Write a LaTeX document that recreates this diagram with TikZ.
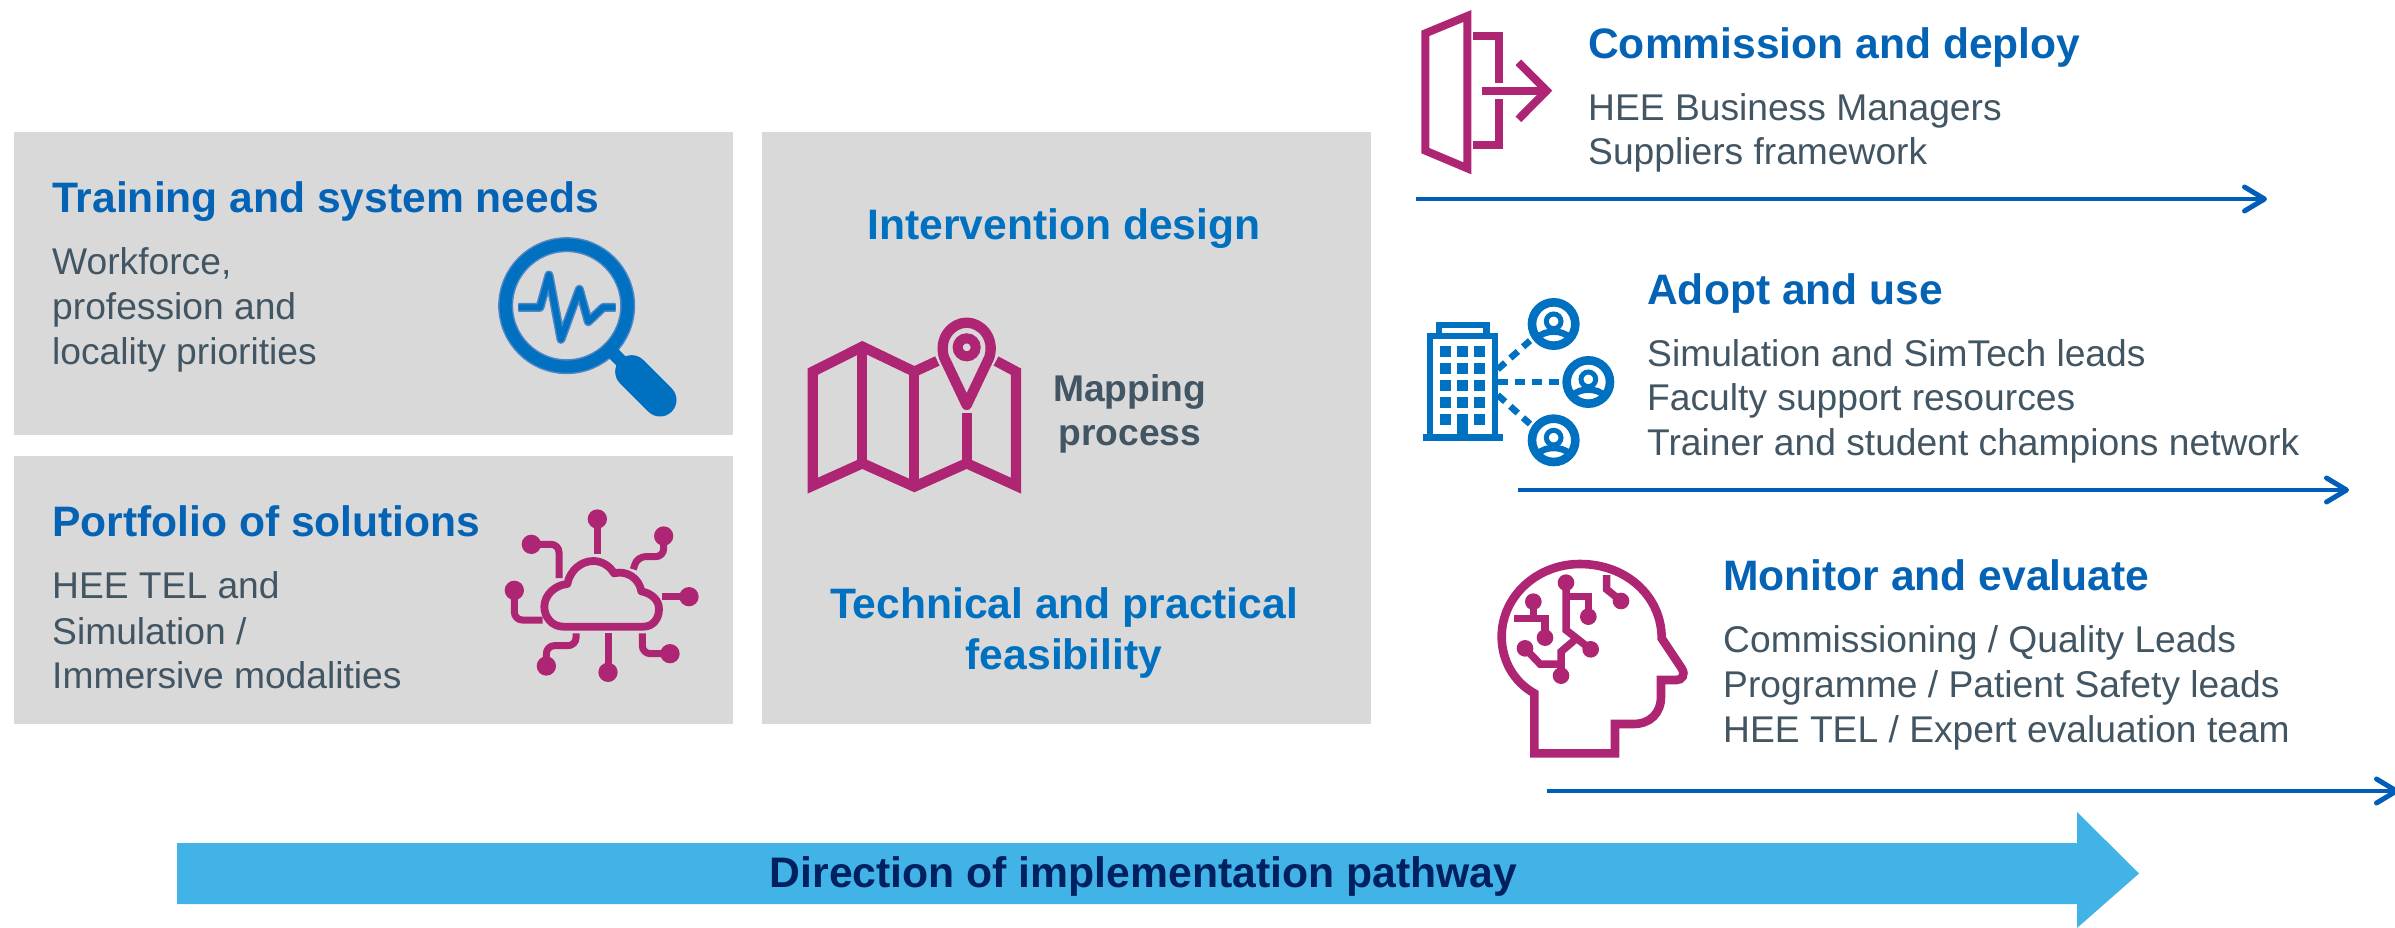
\documentclass[tikz,border=0pt]{standalone}
\usepackage{fontspec}
\setmainfont{Liberation Sans}
\usetikzlibrary{arrows.meta}
\definecolor{hblue}{HTML}{0563B5}
\definecolor{iblue}{HTML}{0070C0}
\definecolor{edgeblue}{HTML}{4F86C6}
\definecolor{bodygray}{HTML}{425563}
\definecolor{mag}{HTML}{AE2573}
\definecolor{boxgray}{HTML}{D9D9D9}
\definecolor{bigarrow}{HTML}{41B3E6}
\definecolor{navy}{HTML}{002060}
\definecolor{lineblue}{HTML}{005EB8}
\tikzset{
 panel/.style={fill=boxgray,draw=none},
 head/.style={anchor=base west,inner sep=0pt,font=\fontsize{42.6}{42.6}\selectfont\bfseries,text=hblue},
 chead/.style={anchor=base,inner sep=0pt,font=\fontsize{42.6}{42.6}\selectfont\bfseries,text=iblue},
 bodytxt/.style={anchor=base west,inner sep=0pt,font=\fontsize{37.2}{37.2}\selectfont,text=bodygray},
 maptxt/.style={anchor=base,inner sep=0pt,font=\fontsize{37.2}{37.2}\selectfont\bfseries,text=bodygray},
 flow/.style={draw=lineblue,line width=4pt,-{Straight Barb[length=20pt,width=24pt,line width=5pt,round]}},
 icm/.style={draw=mag,line width=8pt,miter limit=10},
 icb/.style={draw=iblue,line width=6.5pt,miter limit=10},
}
\begin{document}
\begin{tikzpicture}[x=1pt,y=-1pt]
\useasboundingbox (0,0) rectangle (2395,928);
% panels
\fill[panel] (14,132) rectangle (733,435);
\fill[panel] (14,456) rectangle (733,724);
\fill[panel] (762,132) rectangle (1371,724);
% big arrow
\fill[bigarrow] (177,843) -- (2077,843) -- (2077,812) -- (2139,873.5) -- (2077,928) -- (2077,904) -- (177,904) -- cycle;
\node[anchor=base,inner sep=0pt,font=\fontsize{42.7}{42.7}\selectfont\bfseries,text=navy] (dir) at (1143.5,887) {Direction of implementation pathway};
% left text
\node[head] (t1) at (52,212) {Training and system needs};
\node[bodytxt] (t1a) at (52,274) {Workforce,};
\node[bodytxt] (t1b) at (52,319) {profession and};
\node[bodytxt] (t1c) at (52,364) {locality priorities};
\node[head] (t2) at (52,536) {Portfolio of solutions};
\node[bodytxt] (t2a) at (52,598) {HEE TEL and};
\node[bodytxt] (t2b) at (52,644) {Simulation /};
\node[bodytxt] (t2c) at (52,688) {Immersive modalities};
% centre text
\node[chead] (c1) at (1064,240) {Intervention design};
\node[maptxt] (m1) at (1129.5,401) {Mapping};
\node[maptxt] (m2) at (1130,445) {process};
\node[chead] (c2) at (1064,618) {Technical and practical};
\node[chead] (c3) at (1064,669) {feasibility};
% right text
\node[head] (r1) at (1588,59) {Commission and deploy};
\node[bodytxt] (r1a) at (1588,121) {HEE Business Managers};
\node[bodytxt] (r1b) at (1588,165) {Suppliers framework};
\node[head] (r2) at (1647,304) {Adopt and use};
\node[bodytxt] (r2a) at (1647,366) {Simulation and SimTech leads};
\node[bodytxt] (r2b) at (1647,410) {Faculty support resources};
\node[bodytxt] (r2c) at (1647,455) {Trainer and student champions network};
\node[head] (r3) at (1723,590) {Monitor and evaluate};
\node[bodytxt] (r3a) at (1723,652) {Commissioning / Quality Leads};
\node[bodytxt] (r3b) at (1723,697) {Programme / Patient Safety leads};
\node[bodytxt] (r3c) at (1723,742) {HEE TEL / Expert evaluation team};
% flow arrows
\coordinate (a1) at (1416,199); \coordinate (b1) at (2267,199);
\coordinate (a2) at (1518,490); \coordinate (b2) at (2349,490);
\coordinate (a3) at (1547,791); \coordinate (b3) at (2399,791);
\draw[flow] (a1) -- (b1);
\draw[flow] (a2) -- (b2);
\draw[flow] (a3) -- (b3);
% magnifier
\begin{scope}[shift={(460,200)},scale=1/3]
\draw[edgeblue,line width=15pt] (320,317) circle (183);
\draw[iblue,line width=12pt] (320,317) circle (183);
\draw[edgeblue,line width=9pt,line join=round] (175,322) -- (240,322) -- (267,225) -- (303,418) -- (358,268) -- (385,365) -- (430,322) -- (467,322);
\draw[iblue,line width=6pt,line join=round] (175,322) -- (240,322) -- (267,225) -- (303,418) -- (358,268) -- (385,365) -- (430,322) -- (467,322);
\draw[iblue,line width=13pt] (460,460) -- (520,520);
\draw[iblue,line width=33pt,line cap=round] (515,515) -- (600,600);
\end{scope}
% cloud
\begin{scope}[shift={(480,490)},scale=1/3]
\draw[mag,line width=7.8pt,line join=round] (250,410) .. controls (215,410) and (193,380) .. (193,350) .. controls (193,315) and (225,285) .. (262,282)
 .. controls (270,240) and (305,213) .. (340,213) .. controls (365,213) and (390,228) .. (402,250)
 .. controls (440,240) and (478,265) .. (484,304) .. controls (515,310) and (537,330) .. (537,357) .. controls (537,385) and (520,410) .. (490,410) -- cycle;
\tikzset{cl/.style={mag,line width=7pt}}
\fill[mag] (352,87) circle (29) (551,138) circle (29) (627,320) circle (29) (570,491) circle (29) (384,547) circle (29) (199,528) circle (29) (103,301) circle (29) (154,163) circle (29);
\draw[cl] (352,87) -- (352,192);
\draw[cl,rounded corners=8pt] (551,138) -- (551,200) -- (472,200) -- (460,238);
\draw[cl] (627,320) -- (545,320);
\draw[cl,rounded corners=8pt] (570,491) -- (487,491) -- (487,430);
\draw[cl] (384,547) -- (384,430);
\draw[cl,rounded corners=8pt] (199,528) -- (199,467) -- (288,467) -- (288,430);
\draw[cl,rounded corners=8pt] (103,301) -- (103,390) -- (188,390);
\draw[cl,rounded corners=8pt] (154,163) -- (237,163) -- (237,264);
\end{scope}
% map
\begin{scope}[shift={(790,300)},scale=1/3]
\tikzset{mp/.style={mag,line width=10.3pt,miter limit=10}}
\draw[mp] (442,183) -- (373,215) -- (217,140) -- (68,215) -- (68,557) -- (217,490) -- (373,560) -- (530,490) -- (678,557) -- (678,215) -- (618,183);
\draw[mp] (217,140) -- (217,490);
\draw[mp] (373,215) -- (373,560);
\draw[mp] (530,340) -- (530,490);
\draw[mp,line join=round] (462,172) .. controls (445,115) and (485,68) .. (530,68) .. controls (575,68) and (615,115) .. (598,172) -- (530,315) -- cycle;
\draw[mag,line width=10pt] (530,142) circle (27);
\end{scope}
% door
\begin{scope}[shift={(1400,0)},scale=1/3]
\draw[icm] (76,100) -- (202,48) -- (202,505) -- (76,452) -- cycle;
\draw[icm] (220,108) -- (298,108) -- (298,248);
\draw[icm] (298,298) -- (298,435) -- (220,435);
\draw[icm] (245,272) -- (435,272);
\draw[icm] (355,187) -- (440,272) -- (355,358);
\end{scope}
% building
\begin{scope}[shift={(1410,290)},scale=1/3]
\draw[icb] (87,138) -- (87,105) -- (230,105) -- (230,138);
\draw[icb] (60,435) -- (60,138) -- (255,138) -- (255,435);
\draw[iblue,line width=7pt] (38,441) -- (278,441);
\foreach \xx in {90,141,193}{\foreach \yy in {167,218,270,321}{\fill[iblue] (\xx,\yy) rectangle ++(33,33);}}
\fill[iblue] (90,373) rectangle ++(33,33);
\fill[iblue] (193,373) rectangle ++(33,33);
\fill[iblue] (141,373) rectangle (174,435);
\draw[iblue,line width=6.5pt,dash pattern=on 10pt off 7pt] (263,238) -- (360,152);
\draw[iblue,line width=6.5pt,dash pattern=on 10pt off 7pt] (263,276) -- (450,276);
\draw[iblue,line width=6.5pt,dash pattern=on 10pt off 7pt] (263,315) -- (360,402);
\foreach \cx/\cy in {431/102,535/276,431/451}{
 \draw[iblue,line width=8.6pt] (\cx,\cy) circle (65);
 \draw[iblue,line width=5pt] (\cx,\cy-8) circle (22);
 \draw[iblue,line width=6.5pt] (\cx-50,\cy+42) .. controls (\cx-36,\cy+28) and (\cx-18,\cy+23) .. (\cx,\cy+23) .. controls (\cx+18,\cy+23) and (\cx+36,\cy+28) .. (\cx+50,\cy+42);
}
\end{scope}
% head
\begin{scope}[shift={(1480,550)},scale=1/3]
\draw[mag,line width=8.6pt,miter limit=10] (163,610) -- (163,430)
 .. controls (100,395) and (65,330) .. (65,260) .. controls (65,140) and (170,42) .. (300,42)
 .. controls (440,42) and (545,140) .. (545,265) -- (605,355) .. controls (618,375) and (605,390) .. (590,390) -- (543,390) -- (543,440)
 .. controls (543,490) and (510,522) .. (460,522) -- (405,522) -- (405,610) -- cycle;
\tikzset{hc/.style={mag,line width=7.5pt,miter limit=10}}
\fill[mag] (160,155) circle (25) (258,98) circle (25) (325,200) circle (25) (423,153) circle (25) (195,263) circle (25) (135,295) circle (25) (332,298) circle (25) (243,377) circle (25);
\draw[hc] (160,155) -- (160,205);
\draw[hc] (102,205) -- (195,205) -- (195,263);
\draw[hc] (258,98) -- (258,240) -- (332,298);
\draw[hc] (258,140) -- (325,140) -- (325,200);
\draw[hc] (380,75) -- (380,118) -- (423,153);
\draw[hc] (135,295) -- (180,342) -- (243,342);
\draw[hc] (243,377) -- (243,305) -- (290,265);
\end{scope}
\end{tikzpicture}
\end{document}
